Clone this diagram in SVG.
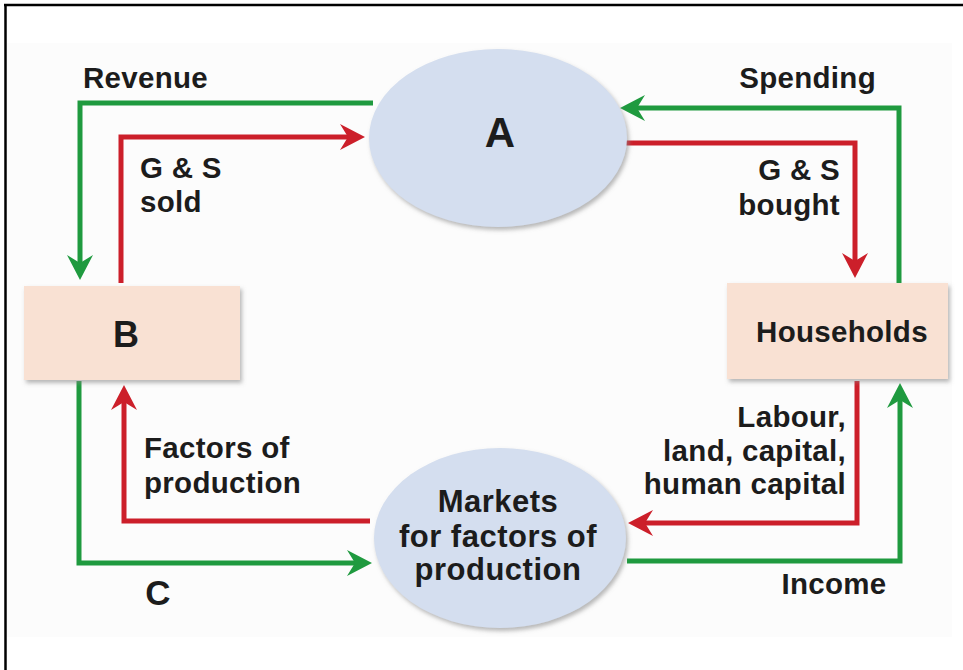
<svg xmlns="http://www.w3.org/2000/svg" width="963" height="670" viewBox="0 0 963 670">
<style>
text{font-family:"Liberation Sans",Arial,sans-serif;font-weight:bold;fill:#1c1c1c}
.lbl{font-size:29.5px;letter-spacing:0.3px}
.g{fill:none;stroke:#1f9a3f;stroke-width:5}
.r{fill:none;stroke:#cc1f2a;stroke-width:5}
.ell{fill:#d4deef;filter:url(#sh)}
.box{fill:#f9e1d3;filter:url(#sh)}
</style>
<defs>
<filter id="sh" x="-10%" y="-10%" width="125%" height="130%">
<feDropShadow dx="2" dy="3" stdDeviation="2" flood-color="#888" flood-opacity="0.6"/>
</filter>
<marker id="ag" viewBox="-27 -14 29 28" refX="-10" refY="0" markerWidth="29" markerHeight="28" markerUnits="userSpaceOnUse" orient="auto">
<path d="M0,0 L-25,-13 L-17,0 L-25,13 Z" fill="#1f9a3f"/>
</marker>
<marker id="ar" viewBox="-27 -14 29 28" refX="-10" refY="0" markerWidth="29" markerHeight="28" markerUnits="userSpaceOnUse" orient="auto">
<path d="M0,0 L-25,-13 L-17,0 L-25,13 Z" fill="#cc1f2a"/>
</marker>
</defs>
<rect x="0" y="0" width="963" height="670" fill="#ffffff"/>
<rect x="7" y="43" width="945" height="594" fill="#fcfcfc"/>
<line x1="4" y1="5" x2="963" y2="5" stroke="#000" stroke-width="2.5"/>
<line x1="5.5" y1="5" x2="5.5" y2="670" stroke="#000" stroke-width="2.5"/>

<g id="connectors">
<path class="g" d="M373,103 H80 V270" marker-end="url(#ag)"/>
<path class="r" d="M121,283 V137 H355" marker-end="url(#ar)"/>
<path class="g" d="M899,283 V108 H630" marker-end="url(#ag)"/>
<path class="r" d="M625,143 H855 V268" marker-end="url(#ar)"/>
<path class="r" d="M857,381 V523 H638" marker-end="url(#ar)"/>
<path class="g" d="M627,561 H900 V393" marker-end="url(#ag)"/>
<path class="r" d="M370,521 H124 V395" marker-end="url(#ar)"/>
<path class="g" d="M79,381 V563 H362" marker-end="url(#ag)"/>
</g>

<g id="nodeA">
<ellipse class="ell" cx="498" cy="138" rx="129" ry="89"/>
<text x="500" y="147" font-size="42" text-anchor="middle">A</text>
</g>
<g id="nodeB">
<rect class="box" x="24" y="286" width="216" height="94"/>
<text x="126" y="347" font-size="36" text-anchor="middle">B</text>
</g>
<g id="nodeHouseholds">
<rect class="box" x="727" y="283" width="221" height="96"/>
<text class="lbl" x="842" y="342" text-anchor="middle">Households</text>
</g>
<g id="nodeMarkets">
<ellipse class="ell" cx="500" cy="538" rx="126" ry="90"/>
<text x="498" y="512" font-size="31" text-anchor="middle" letter-spacing="0.5">Markets</text>
<text x="498" y="547" font-size="31" text-anchor="middle" letter-spacing="0.5">for factors of</text>
<text x="498" y="580" font-size="31" text-anchor="middle" letter-spacing="0.5">production</text>
</g>

<g id="labels">
<text class="lbl" x="83" y="88">Revenue</text>
<text class="lbl" x="876" y="88" text-anchor="end">Spending</text>
<text class="lbl" x="140" y="178">G &amp; S</text>
<text class="lbl" x="140" y="212">sold</text>
<text class="lbl" x="840" y="180" text-anchor="end">G &amp; S</text>
<text class="lbl" x="840" y="215" text-anchor="end">bought</text>
<text class="lbl" x="144" y="458">Factors of</text>
<text class="lbl" x="144" y="493">production</text>
<text class="lbl" x="846" y="427" text-anchor="end">Labour,</text>
<text class="lbl" x="846" y="461" text-anchor="end">land, capital,</text>
<text class="lbl" x="846" y="494" text-anchor="end">human capital</text>
<text class="lbl" x="834" y="594" text-anchor="middle">Income</text>
<text x="158" y="605" font-size="35" text-anchor="middle">C</text>
</g>
</svg>
